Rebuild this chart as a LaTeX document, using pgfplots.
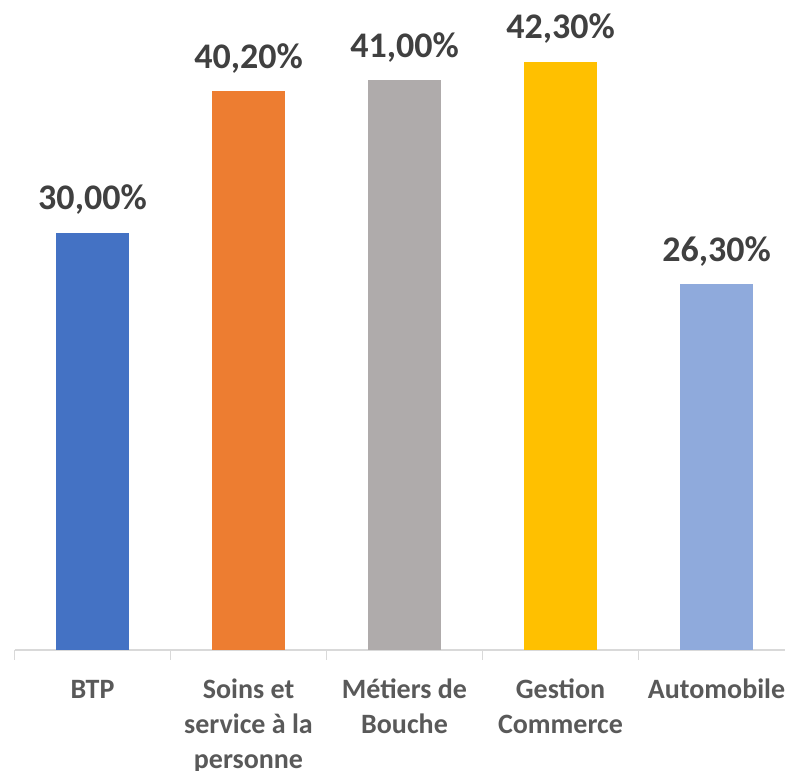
\documentclass[border=0pt]{standalone}
\usepackage{fontspec}
\setmainfont{Carlito}
\usepackage{pgfplots}
\pgfplotsset{compat=1.18}
\definecolor{cBTP}{HTML}{4472C4}
\definecolor{cSoins}{HTML}{ED7D31}
\definecolor{cMet}{HTML}{AFABAB}
\definecolor{cGest}{HTML}{FFC000}
\definecolor{cAuto}{HTML}{8FAADC}
\definecolor{valtxt}{HTML}{404040}
\definecolor{cattxt}{HTML}{595959}
\definecolor{axl}{HTML}{D9D9D9}
\begin{document}
\begin{tikzpicture}
\useasboundingbox (0,0) rectangle (785pt,771pt);
\begin{axis}[
  at={(14.5pt,121pt)}, anchor=south west,
  scale only axis, width=770.5pt, height=650pt,
  xmin=-0.5, xmax=4.439, ymin=0, ymax=46.76,
  ybar, bar width=73.5pt,
  axis x line*=bottom, hide y axis,
  x axis line style={draw=axl, line width=1.2pt},
  xtick={0,1,2,3,4},
  xticklabels={{\strut BTP},{\strut Soins et\\service à la\\personne},{\strut Métiers de\\Bouche},{\strut Gestion\\Commerce},{\strut Automobile}},
  major tick length=0pt,
  minor xtick={-0.5,0.5,1.5,2.5,3.5},
  minor tick length=10pt, tick align=outside,
  minor tick style={draw=axl, line width=1.2pt},
  xticklabel style={font=\fontsize{28}{35}\selectfont\bfseries, text=cattxt, align=center, anchor=north, yshift=-23.5pt, inner sep=0pt},
  clip=false,
  nodes near coords={\pgfmathprintnumber[fixed,fixed zerofill,precision=2,use comma,assume math mode=true]{\pgfplotspointmeta}\%},
  nodes near coords style={font=\fontsize{36}{43}\selectfont\bfseries, text=valtxt, anchor=base, yshift=23pt, inner sep=0pt},
]
\addplot[bar shift=0pt, fill=cBTP, draw=none] coordinates {(0,30.0)};
\addplot[bar shift=0pt, fill=cSoins, draw=none] coordinates {(1,40.2)};
\addplot[bar shift=0pt, fill=cMet, draw=none] coordinates {(2,41.0)};
\addplot[bar shift=0pt, fill=cGest, draw=none] coordinates {(3,42.3)};
\addplot[bar shift=0pt, fill=cAuto, draw=none] coordinates {(4,26.3)};
\end{axis}
\end{tikzpicture}
\end{document}
